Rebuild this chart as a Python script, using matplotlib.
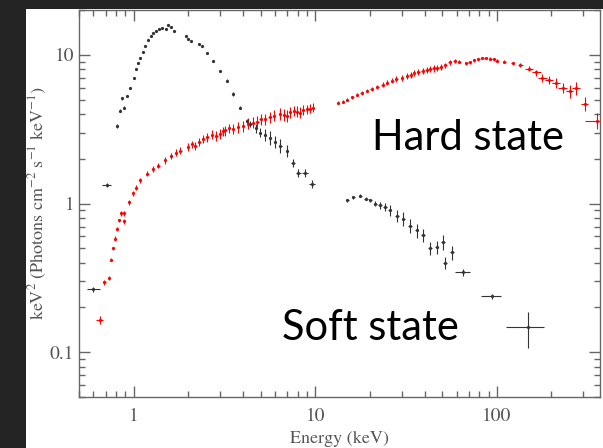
#!/usr/bin/env python3

import matplotlib
matplotlib.use("Agg")
import matplotlib.pyplot as plt
from matplotlib.patches import Rectangle
from matplotlib.ticker import LogLocator, NullFormatter, FixedFormatter, FixedLocator

# --- soft state (black), low-energy instrument ---
soft_lo_e = [0.60, 0.71, 0.81, 0.84, 0.86, 0.88, 0.92, 0.96, 1.00, 1.03, 1.06, 1.09,
             1.13, 1.16, 1.20, 1.24, 1.28, 1.32, 1.38, 1.44, 1.50, 1.54, 1.60, 1.66,
             1.93, 2.00, 2.06, 2.30, 2.39, 2.55, 2.75, 3.00, 3.28, 3.54, 3.87, 4.23,
             4.39, 4.70, 4.98, 5.30, 5.66, 6.00, 6.42, 7.00, 7.57, 8.05, 8.80, 9.60]
soft_lo_f = [0.265, 1.34, 3.3, 4.2, 5.1, 4.4, 5.3, 6.0, 7.0, 8.0, 8.8, 9.5,
             10.5, 11.5, 12.5, 13.4, 14.0, 14.5, 14.8, 15.2, 15.0, 15.9, 15.3, 14.5,
             13.4, 12.8, 12.4, 11.8, 11.5, 10.3, 9.1, 7.8, 6.7, 5.47, 4.41, 3.6,
             3.44, 3.2, 3.0, 2.9, 2.77, 2.6, 2.45, 2.27, 1.88, 1.61, 1.61, 1.36]
soft_lo_xerr = [0.05, 0.04, 0.01, 0.01, 0.01, 0.01, 0.01, 0.01, 0.01, 0.01, 0.01, 0.01,
                0.01, 0.01, 0.01, 0.01, 0.01, 0.01, 0.01, 0.01, 0.01, 0.01, 0.01, 0.01,
                0.02, 0.02, 0.02, 0.02, 0.02, 0.03, 0.03, 0.03, 0.04, 0.04, 0.05, 0.05,
                0.06, 0.06, 0.07, 0.08, 0.08, 0.09, 0.10, 0.12, 0.20, 0.25, 0.30, 0.35]
soft_lo_yerr = [0.01, 0.04, 0.1, 0.1, 0.1, 0.1, 0.1, 0.1, 0.1, 0.1, 0.1, 0.1,
                0.1, 0.1, 0.1, 0.1, 0.1, 0.1, 0.1, 0.1, 0.1, 0.1, 0.1, 0.1,
                0.15, 0.15, 0.15, 0.15, 0.15, 0.15, 0.15, 0.15, 0.15, 0.15, 0.12, 0.12,
                0.15, 0.20, 0.22, 0.25, 0.28, 0.25, 0.25, 0.20, 0.12, 0.10, 0.10, 0.08]

# --- soft state (black), high-energy instrument ---
soft_hi_e = [15.0, 16.2, 17.7, 19.0, 20.1, 21.4, 22.8, 24.2, 25.8, 28.2, 30.5, 33.3,
             36.3, 39.2, 42.8, 46.7, 50.5, 51.8, 56.5, 65.0, 94.0, 148.0]
soft_hi_f = [1.05, 1.10, 1.13, 1.08, 1.05, 1.00, 0.97, 0.95, 0.90, 0.83, 0.79, 0.71,
             0.66, 0.61, 0.50, 0.51, 0.55, 0.40, 0.47, 0.344, 0.238, 0.147]
soft_hi_xerr = [0.3, 0.3, 0.3, 0.4, 0.4, 0.4, 0.5, 0.5, 0.5, 0.6, 0.6, 0.7,
                0.7, 0.8, 0.9, 1.0, 1.5, 1.5, 1.5, 6.5, 12.0, 35.0]
soft_hi_yerr = [0.02, 0.02, 0.02, 0.03, 0.03, 0.04, 0.05, 0.06, 0.07, 0.08, 0.08, 0.08,
                0.07, 0.06, 0.05, 0.05, 0.06, 0.04, 0.05, 0.02, 0.01, 0.04]

# --- hard state (red), low-energy instrument ---
hard_lo_e = [0.65, 0.69, 0.73, 0.75, 0.77, 0.79, 0.81, 0.83, 0.85, 0.88, 0.89, 0.94,
             0.99, 1.03, 1.09, 1.19, 1.28, 1.37, 1.48, 1.60, 1.70,
             1.81, 2.00, 2.10, 2.19, 2.30, 2.42, 2.55, 2.70, 2.85, 3.00,
             3.10, 3.20, 3.35, 3.54, 3.75, 4.00, 4.25, 4.56, 4.80, 5.00,
             5.30, 5.60, 5.90, 6.42, 6.70, 7.00, 7.30, 7.60, 7.90, 8.25,
             8.60, 9.00, 9.40, 9.75]
hard_lo_f = [0.164, 0.295, 0.318, 0.42, 0.50, 0.58, 0.67, 0.77, 0.86, 0.76, 0.86, 1.02,
             1.17, 1.28, 1.43, 1.59, 1.70, 1.80, 1.95, 2.10, 2.20,
             2.27, 2.40, 2.50, 2.45, 2.60, 2.73, 2.80, 2.90, 2.85, 2.95,
             3.05, 3.10, 3.20, 3.18, 3.25, 3.30, 3.45, 3.50, 3.55, 3.70,
             3.70, 3.80, 3.90, 4.02, 3.95, 3.90, 4.10, 4.20, 4.15, 4.08,
             4.25, 4.30, 4.35, 4.41]
hard_lo_xerr = [0.03, 0.01, 0.01, 0.01, 0.01, 0.01, 0.01, 0.01, 0.01, 0.01, 0.01, 0.01,
                0.01, 0.01, 0.01, 0.02, 0.02, 0.02, 0.02, 0.02, 0.02,
                0.03, 0.03, 0.03, 0.03, 0.04, 0.04, 0.04, 0.04, 0.05, 0.05,
                0.05, 0.05, 0.05, 0.05, 0.06, 0.06, 0.06, 0.07, 0.07, 0.07,
                0.08, 0.08, 0.08, 0.09, 0.09, 0.10, 0.10, 0.10, 0.11, 0.12,
                0.12, 0.12, 0.13, 0.14]
hard_lo_yerr = [0.01, 0.01, 0.01, 0.01, 0.01, 0.02, 0.02, 0.02, 0.03, 0.03, 0.03, 0.04,
                0.04, 0.05, 0.05, 0.06, 0.08, 0.08, 0.10, 0.10, 0.11,
                0.12, 0.15, 0.15, 0.15, 0.16, 0.18, 0.19, 0.20, 0.20, 0.22,
                0.22, 0.24, 0.24, 0.25, 0.26, 0.28, 0.28, 0.30, 0.30, 0.32,
                0.32, 0.32, 0.33, 0.35, 0.35, 0.35, 0.35, 0.35, 0.35, 0.35,
                0.33, 0.30, 0.30, 0.30]

# --- hard state (red), high-energy instrument ---
hard_hi_e = [13.4, 14.2, 15.0, 16.0, 17.0, 18.0, 19.3, 20.5, 22.0, 23.5,
             24.9, 26.5, 28.0, 30.0, 32.0, 33.5, 35.0, 37.0, 39.0, 41.0,
             43.0, 45.0, 46.9, 49.0, 52.0, 55.0, 58.7, 62.0, 68.0, 71.0,
             75.0, 79.0, 83.0, 87.0, 92.0, 96.0, 100.0, 110.0, 122.0, 135.0,
             151.0, 165.0, 178.0, 195.0, 213.0, 230.0, 252.0, 274.0, 304.0, 354.0]
hard_hi_f = [4.76, 4.85, 5.00, 5.20, 5.40, 5.55, 5.74, 5.90, 6.10, 6.30,
             6.49, 6.70, 6.90, 7.00, 7.22, 7.35, 7.50, 7.70, 7.80, 7.90,
             8.00, 8.10, 8.18, 8.30, 8.50, 8.90, 9.10, 9.00, 8.80, 8.90,
             9.20, 9.30, 9.50, 9.50, 9.40, 9.30, 9.10, 9.00, 8.80, 8.50,
             8.07, 7.60, 7.00, 6.80, 6.50, 6.00, 5.70, 6.00, 4.69, 3.60]
hard_hi_xerr = [0.2, 0.2, 0.2, 0.3, 0.3, 0.3, 0.3, 0.4, 0.4, 0.4,
                0.4, 0.5, 0.5, 0.5, 0.5, 0.6, 0.6, 0.7, 0.7, 0.8,
                0.8, 0.9, 0.9, 1.0, 1.0, 1.0, 1.0, 1.1, 1.2, 1.3,
                1.3, 1.4, 1.5, 1.5, 1.6, 1.7, 1.8, 2.0, 2.5, 4.0,
                8.0, 9.0, 10.0, 10.0, 11.0, 12.0, 12.0, 13.0, 14.0, 50.0]
hard_hi_yerr = [0.10, 0.10, 0.10, 0.12, 0.12, 0.15, 0.15, 0.18, 0.20, 0.25,
                0.25, 0.28, 0.30, 0.32, 0.35, 0.35, 0.35, 0.38, 0.40, 0.40,
                0.40, 0.40, 0.40, 0.35, 0.30, 0.30, 0.30, 0.25, 0.20, 0.20,
                0.20, 0.20, 0.20, 0.20, 0.20, 0.20, 0.20, 0.20, 0.20, 0.25,
                0.30, 0.35, 0.40, 0.45, 0.50, 0.50, 0.55, 0.60, 0.50, 0.45]

SOFT_COLOR = "#333333"
HARD_COLOR = "#ff0000"

plt.rcParams["mathtext.fontset"] = "stix"

fig = plt.figure(figsize=(6.03, 4.48), dpi=100, facecolor="#242424")
# white slide area on top of dark backdrop (behind the axes)
fig.patches.append(Rectangle((26 / 603, 0), 1, 1 - 9 / 448, transform=fig.transFigure,
                             facecolor="white", edgecolor="none", zorder=-10))

ax = fig.add_axes([79 / 603, 1 - 397 / 448, 521 / 603, 387 / 448])
ax.set_xscale("log")
ax.set_yscale("log")
ax.set_xlim(0.5, 370)
ax.set_ylim(0.05, 20)

eb_kw = dict(fmt="o", markersize=1.3, elinewidth=0.8, capsize=0, linestyle="none")
ax.errorbar(soft_lo_e, soft_lo_f, xerr=soft_lo_xerr, yerr=soft_lo_yerr,
            color=SOFT_COLOR, **eb_kw)
ax.errorbar(soft_hi_e, soft_hi_f, xerr=soft_hi_xerr, yerr=soft_hi_yerr,
            color=SOFT_COLOR, **eb_kw)
ax.errorbar(hard_lo_e, hard_lo_f, xerr=hard_lo_xerr, yerr=hard_lo_yerr,
            color=HARD_COLOR, **eb_kw)
ax.errorbar(hard_hi_e, hard_hi_f, xerr=hard_hi_xerr, yerr=hard_hi_yerr,
            color=HARD_COLOR, **eb_kw)

# ticks: serif, gray, inward on all four sides
ax.xaxis.set_major_locator(FixedLocator([1, 10, 100]))
ax.xaxis.set_major_formatter(FixedFormatter(["1", "10", "100"]))
ax.yaxis.set_major_locator(FixedLocator([0.1, 1, 10]))
ax.yaxis.set_major_formatter(FixedFormatter(["0.1", "1", "10"]))
for axis in (ax.xaxis, ax.yaxis):
    axis.set_minor_locator(LogLocator(base=10, subs=range(2, 10)))
    axis.set_minor_formatter(NullFormatter())
ax.tick_params(which="both", direction="in", top=True, right=True, color="#666666",
               labelcolor="#555555", labelsize=14, labelfontfamily="STIXGeneral")
ax.tick_params(which="major", length=8, width=1)
ax.tick_params(which="minor", length=4, width=1)
ax.tick_params(axis="x", which="major", pad=8)
for s in ax.spines.values():
    s.set_color("#666666")
    s.set_linewidth(1)

ax.set_xlabel("Energy (keV)", fontsize=13, family="STIXGeneral", color="#555555", labelpad=4)
ax.set_ylabel(r"keV$^2$ (Photons cm$^{-2}$ s$^{-1}$ keV$^{-1}$)", fontsize=13,
              family="STIXGeneral", color="#555555")
ax.yaxis.set_label_coords(-0.058, 0.5)

ax.text(0.562, 0.638, "Hard state", transform=ax.transAxes, fontsize=30,
        family="Lato", color="black", va="baseline")
ax.text(0.39, 0.147, "Soft state", transform=ax.transAxes, fontsize=30,
        family="Lato", color="black", va="baseline")

fig.savefig("out.png", dpi=100, facecolor=fig.get_facecolor())
